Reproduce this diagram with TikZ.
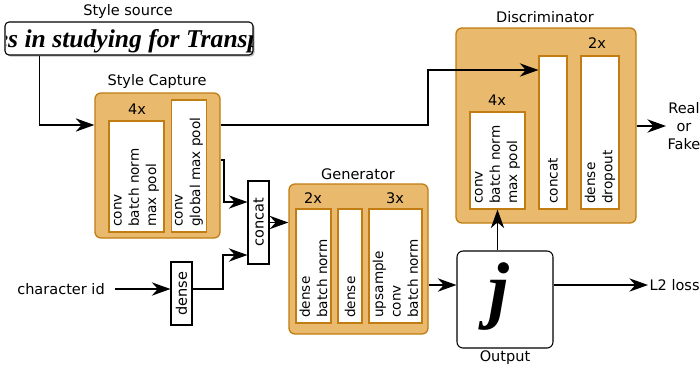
\documentclass[tikz,border=0pt]{standalone}
\usepackage{fontspec}
\setmainfont{DejaVu Sans}
\newfontfamily\serifbi{Liberation Serif}
\usetikzlibrary{arrows.meta,fit,shadows}
\definecolor{chocfill}{HTML}{E9B96E}
\definecolor{chocline}{HTML}{C17D11}
\newcommand{\rtext}[2]{\rotatebox{90}{\parbox{#1}{\raggedright\fontsize{10.2}{13}\selectfont #2}}}
\begin{document}
\begin{tikzpicture}[x=0.75pt,y=-0.75pt,
  every node/.style={font=\fontsize{10.9}{13.5}\selectfont},
  cont/.style={draw=chocline, fill=chocfill, line width=1pt, rounded corners=4.5pt, inner sep=0pt},
  ibox/.style={draw=chocline, fill=white, line width=0.8pt, inner sep=0pt},
  sbox/.style={draw=black, fill=white, line width=0.8pt, inner sep=0pt},
  lbl/.style={inner sep=0pt},
  conn/.style={line width=0.9pt, -{Stealth[length=14pt,width=10pt,inset=4.5pt]}}
]
\useasboundingbox (0,0) rectangle (700,369);

% helper coordinates
\coordinate (y125) at (0,125);
\coordinate (y285) at (0,285);
\coordinate (y126) at (0,126);
\coordinate (k1) at (428,70);
\coordinate (k2) at (224,160);
\coordinate (k3) at (224,202);
\coordinate (k4) at (223,289);
\coordinate (k5) at (223,255);

% style source
\node[lbl] (srclbl) at (128,11) {Style source};
\node[draw=black, fill=white, line width=0.8pt, rounded corners=3pt, inner sep=0pt,
      drop shadow={shadow xshift=1.2pt, shadow yshift=-1.2pt, fill=black!45, opacity=0.6},
      fit={(5,22) (253,55)}] (src) {};
\begin{scope}
  \clip[rounded corners=3pt] (5.5,22.5) rectangle (252.5,54.5);
  \node[anchor=base west, inner sep=0pt, font=\serifbi\bfseries\itshape\fontsize{19.2}{20}\selectfont] (srctxt) at (-3.4,47) {es in studying for Transp};
\end{scope}

% style capture
\node[lbl] (sclbl) at (157,81) {Style Capture};
\node[cont, fit={(95,93) (220,238)}] (sc) {};
\node[lbl] (sc4x) at (137,109) {4x};
\node[ibox, minimum width=41.25pt, minimum height=83.25pt] (scb1) at (136.5,176.5) {\rtext{75.25pt}{conv\\batch norm\\max pool}};
\node[ibox, minimum width=26.25pt, minimum height=99pt] (scb2) at (189,166) {\rtext{91pt}{conv\\global max pool}};

% concat and dense
\node[sbox, minimum width=15.75pt, minimum height=62.25pt] (cc) at (258.5,222.5) {\rotatebox{90}{concat}};
\node[sbox, minimum width=15.75pt, minimum height=47.25pt] (dn) at (181.5,293.5) {\rotatebox{90}{dense}};
\node[lbl] (cid) at (61,289) {character id};

% generator
\node[lbl] (genlbl) at (358,174) {Generator};
\node[cont, fit={(289,184) (428,334)}] (gen) {};
\node[lbl] (g2x) at (313,198) {2x};
\node[lbl] (g3x) at (395,198) {3x};
\node[ibox, minimum width=26.25pt, minimum height=85.5pt] (gb1) at (313.5,266) {\rtext{77.5pt}{dense\\batch norm}};
\node[ibox, minimum width=18pt, minimum height=85.5pt] (gb2) at (350,266) {\rtext{77.5pt}{dense}};
\node[ibox, minimum width=39.75pt, minimum height=85.5pt] (gb3) at (395.5,266) {\rtext{77.5pt}{upsample\\conv\\batch norm}};

% output
\node[draw=black, fill=white, line width=0.8pt, rounded corners=4.5pt, inner sep=0pt, fit={(457,251) (553,348)}] (out) {};
\node[anchor=base, inner sep=0pt, font=\serifbi\bfseries\itshape\fontsize{56}{56}\selectfont] (jj) at (499,314) {j};
\node[lbl] (outlbl) at (505,358) {Output};
\node[anchor=west, inner sep=1pt] (l2) at (648,285) {L2 loss};

% discriminator
\node[lbl] (disclbl) at (545,17) {Discriminator};
\node[cont, fit={(456,28) (636,223)}] (disc) {};
\node[lbl] (d2x) at (597,43) {2x};
\node[lbl] (d4x) at (497,100) {4x};
\node[ibox, minimum width=41.25pt, minimum height=72.75pt] (db1) at (497.5,160.5) {\rtext{64.75pt}{conv\\batch norm\\max pool}};
\node[ibox, minimum width=21pt, minimum height=114.75pt] (dcc) at (553,132.5) {\rtext{106.75pt}{concat}};
\node[ibox, minimum width=28.5pt, minimum height=114.75pt] (ddn) at (600,132.5) {\rtext{106.75pt}{dense\\dropout}};
\node[align=center, inner sep=1pt, font=\fontsize{10.9}{13.8}\selectfont] (rf) at (684,126) {Real\\or\\Fake};

% connectors
\draw[conn] ([xshift=26.25pt]src.south west) |- (sc.west |- y125);
\draw[conn] (sc.east |- y125) -| (k1) -- (dcc.west |- k1);
\draw[conn] (sc.east |- k2) -- (k2) -- (k3) -- (cc.west |- k3);
\draw[conn] ([xshift=7.5pt]cid.east) -- (dn.west |- k4);
\draw[conn] (dn.east |- k4) -- (k4) -- (k5) -- (cc.west |- k5);
\draw[conn] (cc.east) -- (gen.west |- cc.east);
\draw[conn] (gen.east |- y285) -- (out.west |- y285);
\draw[conn] (out.east |- y285) -- (l2.west);
\draw[conn] (db1.south |- out.north) -- (db1.south);
\draw[conn] (disc.east |- y126) -- (rf.west);
\end{tikzpicture}
\end{document}
